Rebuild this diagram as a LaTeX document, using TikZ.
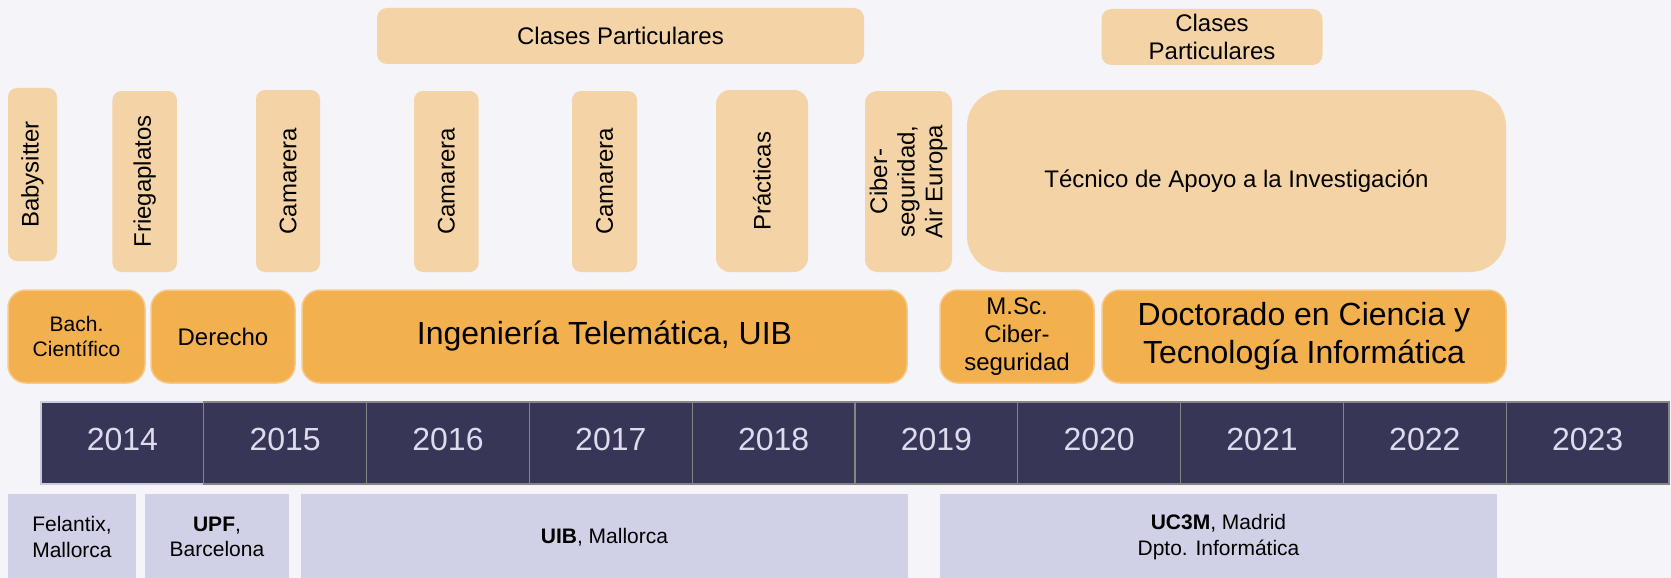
\documentclass[tikz,border=0pt]{standalone}
\usepackage{fontspec}
\setmainfont{Liberation Sans}
\definecolor{fondo}{HTML}{F4F4F9}
\definecolor{claro}{HTML}{F4D4A6}
\definecolor{naranja}{HTML}{F2B04E}
\definecolor{borde}{HTML}{F6C98B}
\definecolor{oscuro}{HTML}{383657}
\definecolor{gris}{HTML}{858585}
\definecolor{anioborde}{HTML}{C9C9E0}
\definecolor{cifra}{HTML}{DCDCEE}
\definecolor{lila}{HTML}{D0D0E6}

\begin{document}
\begin{tikzpicture}[x=1pt,y=-1pt,
trabajo/.style={fill=claro,rounded corners=9pt,inner sep=0pt,rotate=90,align=center,font=\fontsize{24}{27.6}\selectfont},
clases/.style={fill=claro,rounded corners=10pt,inner sep=0pt,align=center,minimum height=56pt,font=\fontsize{24}{28.3}\selectfont},
estudio/.style={fill=naranja,draw=borde,line width=1.5pt,rounded corners=18pt,inner sep=0pt,align=center,minimum height=93pt},
anio/.style={fill=oscuro,draw=gris,line width=1.3pt,minimum width=162.8pt,minimum height=82pt,inner sep=0pt,text=cifra,text height=23pt,text depth=8pt,font=\fontsize{32}{36}\selectfont},
lugar/.style={fill=lila,inner sep=0pt,align=center,minimum height=86pt,font=\fontsize{21}{25.5}\selectfont}]
\path[use as bounding box,fill=fondo] (0,0) rectangle (1671,578);
\clip (0,0) rectangle (1671,578);

\node[clases,minimum width=487pt] (cp1) at (620.5,36) {Clases Particulares};
\node[clases,minimum width=221pt] (cp2) at (1212,37) {Clases\\Particulares};

\node[trabajo,minimum width=173pt,minimum height=49pt] (babysitter) at (32.5,174.5) {Babysitter};
\node[trabajo,minimum width=181pt,minimum height=64.5pt] (friegaplatos) at (144.7,181.5) {Friegaplatos};
\node[trabajo,minimum width=182pt,minimum height=64pt] (camarera1) at (288,181) {Camarera};
\node[trabajo,minimum width=181pt,minimum height=64.6pt] (camarera2) at (446.3,181.5) {Camarera};
\node[trabajo,minimum width=181pt,minimum height=65pt] (camarera3) at (604.5,181.5) {Camarera};
\node[trabajo,minimum width=182pt,minimum height=92pt,rounded corners=14pt] (practicas) at (762,181) {Prácticas};
\node[trabajo,minimum width=181pt,minimum height=87pt,rounded corners=12pt] (airEuropa) at (908.5,181.5) {Ciber-\\seguridad,\\Air Europa};
\node[fill=claro,rounded corners=36pt,inner sep=0pt,minimum width=539pt,minimum height=182pt,font=\fontsize{24}{27.6}\selectfont] (tecnico) at (1236.5,181) {Técnico de Apoyo a la Investigación};

\node[estudio,minimum width=137pt,font=\fontsize{21}{25.5}\selectfont] (bach) at (76.5,336.5) {Bach.\\Científico};
\node[estudio,minimum width=144pt,font=\fontsize{24}{27.6}\selectfont] (derecho) at (223,336.5) {Derecho};
\node[estudio,minimum width=605pt,font=\fontsize{32}{36.8}\selectfont] (telematica) at (604.5,336.5) {Ingeniería Telemática, UIB};
\node[estudio,minimum width=154pt,font=\fontsize{24}{28.3}\selectfont] (msc) at (1017,336.5) {M.Sc.\\Ciber-\\seguridad};
\node[estudio,minimum width=404pt,font=\fontsize{32}{37.7}\selectfont] (doctorado) at (1304,336.5) {Doctorado en Ciencia y\\Tecnología Informática};

\node[anio,draw=anioborde] (a2014) at (122.4,443) {2014};
\node[anio] (a2015) at (285.2,443) {2015};
\node[anio] (a2016) at (448,443) {2016};
\node[anio] (a2017) at (610.8,443) {2017};
\node[anio] (a2018) at (773.6,443) {2018};
\node[anio] (a2019) at (936.4,443) {2019};
\node[anio] (a2020) at (1099.2,443) {2020};
\node[anio] (a2021) at (1262,443) {2021};
\node[anio] (a2022) at (1424.8,443) {2022};
\node[anio] (a2023) at (1587.6,443) {2023};

\node[lugar,minimum width=128pt] (felantix) at (72,537) {Felantix,\\Mallorca};
\node[lugar,minimum width=144pt] (upf) at (217,537) {\textbf{UPF},\\Barcelona};
\node[lugar,minimum width=607pt] (uib) at (604.5,537) {\textbf{UIB}, Mallorca};
\node[lugar,minimum width=557pt] (uc3m) at (1218.5,537) {\textbf{UC3M}, Madrid\\Dpto. Informática};
\end{tikzpicture}
\end{document}
